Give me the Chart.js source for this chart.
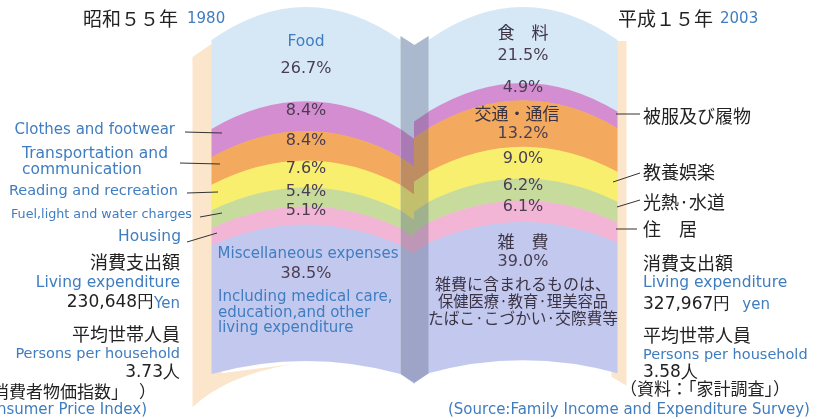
<!DOCTYPE html>
<html>
<head>
<meta charset="utf-8">
<script src="https://cdn.jsdelivr.net/npm/chart.js@4"></script>
<style>
  body { margin: 0; background: #fff; }
  #wrap { width: 817px; height: 419px; position: relative; }
</style>
</head>
<body>
<div id="wrap"><canvas id="bookChart"></canvas></div>
<script>
// household spending shares, top of the page to bottom
const years = ['1980', '2003'];
const yearsJa = ['昭和５５年', '平成１５年'];
const categoriesEn = ['Food', 'Clothes and footwear', 'Transportation and communication',
  'Reading and recreation', 'Fuel,light and water charges', 'Housing', 'Miscellaneous expenses'];
const categoriesJa = ['食　料', '被服及び履物', '交通・通信', '教養娯楽', '光熱·水道', '住　居', '雑　費'];
const share1980 = [26.7, 8.4, 8.4, 7.6, 5.4, 5.1, 38.5];
const share2003 = [21.5, 4.9, 13.2, 9.0, 6.2, 6.1, 39.0];
const livingExpenditure = ['230,648', '327,967'];
const personsPerHousehold = ['3.73', '3.58'];

const bandColors = ['#d6e7f6', '#d48dd1', '#f3a95e', '#f8ef6e', '#c7dc9c', '#f3b5d6', '#c3c9ee'];

const BLUE = '#3f7dc0';
const PCT = '#4a3d52';
const INK = '#222';
const EN = '"DejaVu Sans", Verdana, sans-serif';
const JA = '"Noto Sans CJK JP", sans-serif';

// page bulge: bigger at the top edge, flatter at the bottom
function arch(v) { return 33 - 20 * v / 100; }

function txt(ctx, s, x, y, font, color, align, maxW) {
  ctx.font = font;
  ctx.fillStyle = color;
  ctx.textAlign = align || 'center';
  ctx.textBaseline = 'middle';
  if (maxW) ctx.fillText(s, x, y, maxW); else ctx.fillText(s, x, y);
}

function line(ctx, x1, y1, x2, y2) {
  ctx.beginPath();
  ctx.moveTo(x1, y1);
  ctx.lineTo(x2, y2);
  ctx.strokeStyle = '#333';
  ctx.lineWidth = 1;
  ctx.stroke();
}

const bookPlugin = {
  id: 'book',
  beforeDatasetDraw() { return false; },
  afterDatasetsDraw(chart) {
    const ctx = chart.ctx;
    const yScale = chart.scales.y;
    const n = chart.data.datasets.length;
    const left = [], right = [];
    for (let i = 0; i < n; i++) {
      const els = chart.getDatasetMeta(i).data;
      left.push(els[0]);
      right.push(els[1]);
    }
    const bandBox = el => {
      const p = el.getProps(['x', 'y', 'base', 'width'], true);
      const top = Math.min(p.y, p.base), bot = Math.max(p.y, p.base);
      return { x: p.x, w: p.width, top, bot,
        vTop: yScale.getValueForPixel(top), vBot: yScale.getValueForPixel(bot) };
    };
    const L = left.map(bandBox), R = right.map(bandBox);

    ctx.save();
    // page edges underneath
    const l0 = L[0], r0 = R[0];
    const lx = l0.x - l0.w / 2, rx = r0.x + r0.w / 2;
    const lastL = L[n - 1], lastR = R[n - 1];
    ctx.fillStyle = '#fbe5cb';
    ctx.beginPath();
    ctx.moveTo(lx - 19, l0.top + 17);
    ctx.lineTo(lx, l0.top + 4);
    ctx.lineTo(lx + 10, l0.top + 4);
    ctx.lineTo(lx + 10, lastL.bot);
    ctx.lineTo(lx + 80, lastL.bot - 9);
    ctx.quadraticCurveTo(lx + 15, lastL.bot + 2, lx - 19, lastL.bot + 34);
    ctx.closePath();
    ctx.fill();
    ctx.beginPath();
    ctx.moveTo(rx - 6, r0.top + 1);
    ctx.lineTo(rx + 9, r0.top + 1);
    ctx.lineTo(rx + 9, lastR.bot + 13);
    ctx.lineTo(rx - 6, lastR.bot + 4);
    ctx.closePath();
    ctx.fill();

    // curved bands on both pages
    const drawBand = (b, color) => {
      const xl = b.x - b.w / 2, xr = b.x + b.w / 2;
      const at = arch(b.vTop), ab = arch(b.vBot);
      ctx.beginPath();
      ctx.moveTo(xl, b.top);
      ctx.quadraticCurveTo(b.x, b.top - 2 * at, xr, b.top);
      ctx.lineTo(xr, b.bot + 0.6);
      ctx.quadraticCurveTo(b.x, b.bot + 0.6 - 2 * ab, xl, b.bot + 0.6);
      ctx.closePath();
      ctx.fillStyle = color;
      ctx.fill();
    };
    for (let i = 0; i < n; i++) {
      drawBand(L[i], bandColors[i]);
      drawBand(R[i], bandColors[i]);
    }

    // spine between the pages
    const sx0 = l0.x + l0.w / 2, sx1 = r0.x - r0.w / 2, sc = (sx0 + sx1) / 2;
    const dip = 10;
    for (let i = 0; i < n; i++) {
      const a = L[i], b = R[i];
      const d0 = i === 0 ? 5 : dip;
      ctx.fillStyle = bandColors[i];
      ctx.beginPath();
      ctx.moveTo(sx0, a.top - 4 * (i === 0));
      ctx.lineTo(sc, a.top + d0);
      ctx.lineTo(sc, a.bot + dip + 0.6);
      ctx.lineTo(sx0, a.bot + 0.6);
      ctx.closePath();
      ctx.fill();
      ctx.beginPath();
      ctx.moveTo(sc - 0.5, b.top + d0);
      ctx.lineTo(sx1 + 0.5, b.top - 4 * (i === 0));
      ctx.lineTo(sx1 + 0.5, b.bot + 0.6);
      ctx.lineTo(sc - 0.5, b.bot + dip + 0.6);
      ctx.closePath();
      ctx.fill();
    }
    ctx.fillStyle = 'rgba(70, 80, 110, 0.3)';
    ctx.beginPath();
    ctx.moveTo(sx0, l0.top - 4);
    ctx.lineTo(sc, l0.top + 5);
    ctx.lineTo(sx1, r0.top - 4);
    ctx.lineTo(sx1, lastR.bot + 0.6);
    ctx.lineTo(sc, lastR.bot + dip);
    ctx.lineTo(sx0, lastL.bot + 0.6);
    ctx.closePath();
    ctx.fill();

    // labels inside the bands
    const mid = b => (b.top + b.bot) / 2 - arch(yScale.getValueForPixel((b.top + b.bot) / 2));
    const pctFont = '16px ' + EN;
    const pct = v => v.toFixed(1) + '%';
    const e15 = '15px ' + EN;
    // 1980 page
    let m = mid(L[0]);
    txt(ctx, categoriesEn[0], L[0].x, m - 12, '15.5px ' + EN, BLUE);
    txt(ctx, pct(share1980[0]), L[0].x, m + 15, pctFont, PCT);
    for (let i = 1; i < n - 1; i++) {
      txt(ctx, pct(share1980[i]), L[i].x, mid(L[i]) - 5, pctFont, PCT);
    }
    m = mid(L[n - 1]);
    txt(ctx, categoriesEn[n - 1], L[n - 1].x + 2, m - 38, e15, BLUE, 'center', 186);
    txt(ctx, pct(share1980[n - 1]), L[n - 1].x, m - 19, pctFont, PCT);
    const lx0 = L[n - 1].x - 88;
    txt(ctx, 'Including medical care,', lx0, m + 5, e15, BLUE, 'left', 180);
    txt(ctx, 'education,and other', lx0, m + 21, e15, BLUE, 'left');
    txt(ctx, 'living expenditure', lx0, m + 36, e15, BLUE, 'left');
    // 2003 page
    m = mid(R[0]);
    txt(ctx, categoriesJa[0], R[0].x, m - 12, '17px ' + JA, '#3b3344');
    txt(ctx, pct(share2003[0]), R[0].x, m + 11, pctFont, PCT);
    txt(ctx, pct(share2003[1]), R[1].x, mid(R[1]) - 4, pctFont, PCT);
    m = mid(R[2]);
    txt(ctx, categoriesJa[2], R[2].x - 6, m - 10, '17px ' + JA, '#3b3344');
    txt(ctx, pct(share2003[2]), R[2].x, m + 10, pctFont, PCT);
    for (let i = 3; i < n - 1; i++) {
      txt(ctx, pct(share2003[i]), R[i].x, mid(R[i]) - 4, pctFont, PCT);
    }
    m = mid(R[n - 1]);
    txt(ctx, categoriesJa[n - 1], R[n - 1].x, m - 49, '17px ' + JA, '#3b3344');
    txt(ctx, pct(share2003[n - 1]), R[n - 1].x, m - 29, pctFont, PCT);
    txt(ctx, '雑費に含まれるものは、', R[n - 1].x, m - 7, '16px ' + JA, '#3b3344', 'center', 180);
    txt(ctx, '保健医療·教育·理美容品', R[n - 1].x, m + 10, '16px ' + JA, '#3b3344', 'center', 170);
    txt(ctx, 'たばこ·こづかい·交際費等', R[n - 1].x, m + 27, '16px ' + JA, '#3b3344', 'center', 190);

    // left side legend with leader lines
    txt(ctx, categoriesEn[1], 175, 130, e15, BLUE, 'right');
    line(ctx, 185, 132, 222, 133);
    txt(ctx, 'Transportation and', 22, 154, '15.5px ' + EN, BLUE, 'left');
    txt(ctx, 'communication', 22, 170, '15.5px ' + EN, BLUE, 'left');
    line(ctx, 180, 163, 220, 164);
    txt(ctx, categoriesEn[3], 178, 191, '14.5px ' + EN, BLUE, 'right');
    line(ctx, 187, 193, 218, 192);
    txt(ctx, categoriesEn[4], 192, 215, '13px ' + EN, BLUE, 'right', 181);
    line(ctx, 200, 217, 222, 213);
    txt(ctx, categoriesEn[5], 181, 237, '15.5px ' + EN, BLUE, 'right');
    line(ctx, 187, 242, 217, 233);

    // right side legend with leader lines
    const j18 = '18px ' + JA;
    txt(ctx, categoriesJa[1], 643, 116, j18, INK, 'left');
    line(ctx, 616, 114, 640, 114);
    txt(ctx, categoriesJa[3], 643, 172, j18, INK, 'left');
    line(ctx, 613, 182, 640, 173);
    txt(ctx, categoriesJa[4], 643, 202, j18, INK, 'left');
    line(ctx, 617, 207, 640, 200);
    txt(ctx, categoriesJa[5], 643, 229, j18, INK, 'left');
    line(ctx, 616, 229, 637, 229);

    // headings
    txt(ctx, yearsJa[0], 83, 19, '19px ' + JA, INK, 'left');
    txt(ctx, years[0], 187, 19, '15px ' + EN, BLUE, 'left');
    txt(ctx, yearsJa[1], 618, 19, '19px ' + JA, INK, 'left');
    txt(ctx, years[1], 720, 19, '15px ' + EN, BLUE, 'left');

    // 1980 summary
    txt(ctx, '消費支出額', 180, 262, j18, INK, 'right');
    txt(ctx, 'Living expenditure', 180, 283, '15.5px ' + EN, BLUE, 'right');
    ctx.font = e15;
    const yenW = ctx.measureText('Yen').width;
    txt(ctx, 'Yen', 180, 304, e15, BLUE, 'right');
    txt(ctx, livingExpenditure[0] + '円', 180 - yenW, 303, '17px ' + EN, INK, 'right');
    txt(ctx, '平均世帯人員', 180, 334, j18, INK, 'right');
    txt(ctx, 'Persons per household', 180, 354, '14.5px ' + EN, BLUE, 'right');
    txt(ctx, personsPerHousehold[0] + '人', 180, 373, '17px ' + EN, INK, 'right');
    txt(ctx, '（資料：「消費者物価指数」', 128, 392, '17px ' + JA, INK, 'right');
    txt(ctx, '）', 139, 392, '17px ' + JA, INK, 'left');
    txt(ctx, '(Source:Consumer Price Index)', 147, 410, e15, BLUE, 'right');

    // 2003 summary
    txt(ctx, '消費支出額', 643, 263, j18, INK, 'left');
    txt(ctx, 'Living expenditure', 643, 283, '15.5px ' + EN, BLUE, 'left');
    ctx.font = '17px ' + EN;
    const numW = ctx.measureText(livingExpenditure[1] + '円').width;
    txt(ctx, livingExpenditure[1] + '円', 643, 305, '17px ' + EN, INK, 'left');
    txt(ctx, 'yen', 643 + numW + 12, 305, e15, BLUE, 'left');
    txt(ctx, '平均世帯人員', 643, 335, j18, INK, 'left');
    txt(ctx, 'Persons per household', 643, 355, '14.5px ' + EN, BLUE, 'left');
    txt(ctx, personsPerHousehold[1] + '人', 643, 373, '17px ' + EN, INK, 'left');
    txt(ctx, '（資料：「家計調査」）', 620, 389, '17px ' + JA, INK, 'left');
    txt(ctx, '(Source:Family Income and Expenditure Survey)', 448, 410, e15, BLUE, 'left', 362);
    ctx.restore();
  }
};

const datasets = categoriesEn.map((name, i) => ({
  label: name,
  data: [share1980[i], share2003[i]],
  backgroundColor: bandColors[i]
}));

new Chart(document.getElementById('bookChart'), {
  type: 'bar',
  data: { labels: years, datasets: datasets },
  options: {
    responsive: true,
    maintainAspectRatio: false,
    animation: false,
    layout: { padding: { left: 197.5, right: 185.5, top: 40, bottom: 46 } },
    datasets: { bar: { categoryPercentage: 1, barPercentage: 0.871 } },
    plugins: { legend: { display: false }, tooltip: { enabled: false } },
    scales: {
      x: { display: false, stacked: true },
      y: { display: false, stacked: true, min: 0, max: 100, reverse: true }
    }
  },
  plugins: [bookPlugin]
});
</script>
</body>
</html>
